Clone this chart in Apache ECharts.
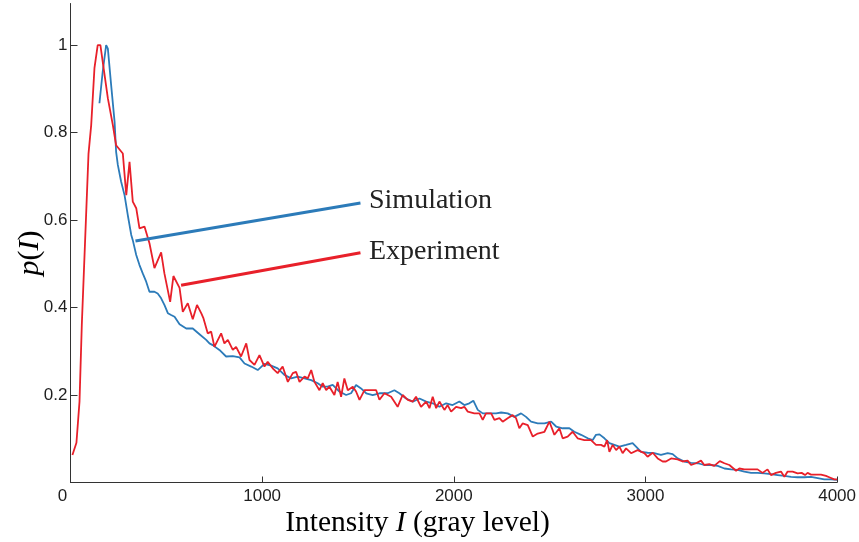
<!DOCTYPE html>
<html>
<head>
<meta charset="utf-8">
<script src="https://cdn.jsdelivr.net/npm/echarts@6/dist/echarts.min.js"></script>
<style>
html,body{margin:0;padding:0;background:#fff;}
#chart{width:859px;height:542px;}
</style>
</head>
<body>
<div id="chart"></div>
<script>
// ---- Data ----
var xTicks = [0, 1000, 2000, 3000, 4000];
var yTicks = [0, 0.2, 0.4, 0.6, 0.8, 1];
var yLabels = [0.2, 0.4, 0.6, 0.8, 1];

var seriesNames = ['Simulation', 'Experiment'];

var expX = [
  10,31,47,59,94,108,125,142,156,168,
  195,221,238,273,291,308,325,343,360,386,
  412,438,473,490,520,537,569,586,612,638,
  660,682,694,716,734,751,786,803,821,847,
  864,890,917,934,960,986,1012,1029,1055,1081,
  1107,1134,1160,1177,1195,1221,1238,1256,1273,1299,
  1316,1334,1351,1377,1394,1412,1429,1447,1473,1490,
  1508,1534,1560,1595,1612,1638,1673,1707,1733,1760,
  1786,1803,1829,1856,1873,1890,1908,1925,1951,1968,
  1986,2012,2038,2055,2073,2107,2134,2151,2168,2195,
  2212,2238,2255,2281,2307,2325,2342,2359,2386,2412,
  2438,2473,2499,2525,2551,2568,2594,2620,2646,2681,
  2716,2742,2768,2786,2800,2812,2829,2847,2864,2881,
  2899,2925,2959,2994,3011,3038,3064,3090,3107,3134,
  3168,3194,3220,3238,3264,3290,3307,3333,3359,3388,
  3412,3438,3473,3490,3516,3551,3585,3611,3637,3655,
  3681,3707,3725,3742,3768,3794,3815,3833,3846,3864,
  3890,3916,3942,3959,3985,4000
];
var expY = [
  0.063,0.091,0.185,0.36,0.752,0.817,0.947,1.0,1.0,0.962,
  0.878,0.817,0.771,0.752,0.657,0.733,0.642,0.627,0.581,0.585,
  0.547,0.49,0.526,0.478,0.413,0.472,0.445,0.39,0.41,0.373,
  0.406,0.387,0.375,0.341,0.345,0.31,0.341,0.318,0.326,0.303,
  0.31,0.288,0.318,0.28,0.269,0.291,0.265,0.276,0.261,0.25,
  0.265,0.23,0.25,0.253,0.23,0.242,0.238,0.257,0.23,0.211,
  0.227,0.211,0.219,0.2,0.23,0.196,0.238,0.211,0.219,0.208,
  0.189,0.211,0.211,0.211,0.189,0.204,0.196,0.173,0.2,0.189,
  0.185,0.196,0.173,0.185,0.17,0.196,0.17,0.185,0.166,0.177,
  0.162,0.173,0.17,0.173,0.162,0.158,0.158,0.143,0.158,0.158,
  0.143,0.147,0.139,0.147,0.154,0.147,0.124,0.135,0.131,0.105,
  0.112,0.116,0.139,0.109,0.124,0.101,0.105,0.116,0.101,0.097,
  0.097,0.086,0.086,0.082,0.097,0.07,0.086,0.074,0.082,0.067,
  0.078,0.067,0.074,0.067,0.059,0.068,0.055,0.048,0.048,0.055,
  0.053,0.048,0.05,0.04,0.044,0.05,0.04,0.042,0.038,0.049,
  0.044,0.04,0.027,0.032,0.03,0.03,0.03,0.022,0.03,0.017,
  0.022,0.025,0.013,0.025,0.025,0.021,0.022,0.017,0.022,0.018,
  0.018,0.018,0.015,0.012,0.007,0.007
];

var simX = [
  151,168,186,195,212,230,238,247,264,282,
  299,317,325,343,360,377,395,412,438,455,
  473,490,508,525,543,569,604,621,638,673,
  708,725,742,777,812,847,882,908,943,977,
  1012,1047,1081,1116,1151,1186,1221,1256,1290,1316,
  1342,1368,1403,1438,1464,1490,1516,1543,1577,1612,
  1655,1690,1716,1751,1786,1821,1856,1890,1925,1960,
  1994,2029,2055,2081,2102,2125,2151,2186,2221,2247,
  2281,2316,2351,2377,2403,2438,2473,2508,2534,2568,
  2603,2629,2664,2699,2725,2742,2760,2786,2812,2838,
  2864,2899,2933,2951,2977,3011,3046,3081,3116,3142,
  3168,3203,3238,3273,3307,3342,3377,3412,3447,3481,
  3516,3551,3585,3620,3655,3690,3725,3760,3794,3829,
  3864,3899,3933,3968,4000
];
var simY = [
  0.867,0.939,1.0,0.992,0.909,0.825,0.756,0.726,0.688,0.657,
  0.611,0.566,0.554,0.52,0.497,0.478,0.459,0.436,0.436,0.432,
  0.421,0.406,0.387,0.383,0.379,0.362,0.352,0.352,0.352,0.339,
  0.326,0.318,0.314,0.303,0.288,0.289,0.286,0.272,0.265,0.257,
  0.271,0.267,0.261,0.246,0.238,0.242,0.238,0.234,0.227,0.219,
  0.219,0.223,0.208,0.2,0.204,0.223,0.215,0.204,0.2,0.204,
  0.204,0.211,0.204,0.192,0.185,0.192,0.185,0.181,0.173,0.181,
  0.177,0.185,0.177,0.181,0.187,0.166,0.158,0.158,0.158,0.16,
  0.158,0.15,0.158,0.15,0.139,0.135,0.135,0.139,0.128,0.124,
  0.124,0.116,0.109,0.101,0.097,0.109,0.11,0.101,0.09,0.086,
  0.082,0.086,0.09,0.082,0.07,0.068,0.067,0.063,0.067,0.065,
  0.055,0.048,0.045,0.044,0.04,0.04,0.038,0.032,0.03,0.029,
  0.025,0.022,0.022,0.021,0.019,0.017,0.015,0.013,0.012,0.012,
  0.013,0.01,0.007,0.007,0.006
];

function pairs(xs, ys) {
  var out = [];
  for (var i = 0; i < xs.length; i++) out.push([xs[i], ys[i]]);
  return out;
}

var BLUE = '#2c7bb9';
var RED = '#e8202a';
var SERIF = '"Liberation Serif", "Times New Roman", serif';
var SANS = '"Liberation Sans", Arial, sans-serif';

var chart = echarts.init(document.getElementById('chart'), null, {renderer: 'canvas'});

var option = {
  animation: false,
  backgroundColor: '#ffffff',
  grid: {left: 70.5, right: 21, top: 3.5, bottom: 59.5, containLabel: false},
  xAxis: {
    type: 'value',
    min: 0, max: 4000, interval: 1000,
    axisLine: {show: true, lineStyle: {color: '#333', width: 1}},
    axisTick: {show: true, inside: true, length: 6, lineStyle: {color: '#333'}, customValues: xTicks},
    axisLabel: {
      show: true, margin: 5, color: '#1e1e1e', fontSize: 17, fontFamily: SANS,
      customValues: xTicks,
      formatter: function (v) { return v === 0 ? '{z|0}' : String(v); },
      rich: {z: {fontSize: 17, fontFamily: SANS, color: '#1e1e1e', padding: [0, 16, 0, 0]}}
    },
    splitLine: {show: false}
  },
  yAxis: {
    type: 'value',
    min: 0, max: 1.095, interval: 0.2,
    axisLine: {show: true, lineStyle: {color: '#333', width: 1}},
    axisTick: {show: true, inside: true, length: 7, lineStyle: {color: '#333'}, customValues: yTicks},
    axisLabel: {
      show: true, margin: 3, color: '#1e1e1e', fontSize: 17, fontFamily: SANS,
      customValues: yLabels,
      formatter: function (v) { return String(Math.round(v * 10) / 10); }
    },
    splitLine: {show: false}
  },
  series: [
    {
      name: seriesNames[0],
      type: 'line',
      data: pairs(simX, simY),
      showSymbol: false,
      symbol: 'none',
      lineStyle: {color: BLUE, width: 1.8},
      z: 3,
      markLine: {
        silent: true,
        symbol: ['none', 'none'],
        label: {show: false},
        lineStyle: {type: 'solid', color: BLUE, width: 3},
        data: [[{coord: [339, 0.552]}, {coord: [1513, 0.639]}]]
      }
    },
    {
      name: seriesNames[1],
      type: 'line',
      data: pairs(expX, expY),
      showSymbol: false,
      symbol: 'none',
      lineStyle: {color: RED, width: 1.8},
      z: 4,
      markLine: {
        silent: true,
        symbol: ['none', 'none'],
        label: {show: false},
        lineStyle: {type: 'solid', color: RED, width: 3},
        data: [[{coord: [577, 0.451]}, {coord: [1513, 0.525]}]]
      }
    }
  ],
  graphic: [
    {
      type: 'text', x: 369, y: 201,
      style: {text: seriesNames[0], align: 'left', verticalAlign: 'middle', fontSize: 28, fontFamily: SERIF, fill: '#222'}
    },
    {
      type: 'text', x: 369, y: 252,
      style: {text: seriesNames[1], align: 'left', verticalAlign: 'middle', fontSize: 28, fontFamily: SERIF, fill: '#222'}
    },
    {
      type: 'text', x: 417.5, y: 523,
      style: {
        text: '{r|Intensity }{i|I}{r| (gray level)}',
        align: 'center', verticalAlign: 'middle',
        rich: {
          r: {fontSize: 29.5, fontFamily: SERIF, color: '#222'},
          i: {fontSize: 29.5, fontFamily: SERIF, fontStyle: 'italic', color: '#222'}
        }
      }
    },
    {
      type: 'text', x: 30, y: 253, rotation: Math.PI / 2,
      style: {
        text: '{i|p}{r|(}{i|I}{r|)}',
        align: 'center', verticalAlign: 'middle',
        rich: {
          r: {fontSize: 30, fontFamily: SERIF, color: '#222'},
          i: {fontSize: 30, fontFamily: SERIF, fontStyle: 'italic', color: '#222'}
        }
      }
    }
  ]
};

chart.setOption(option);
</script>
</body>
</html>
